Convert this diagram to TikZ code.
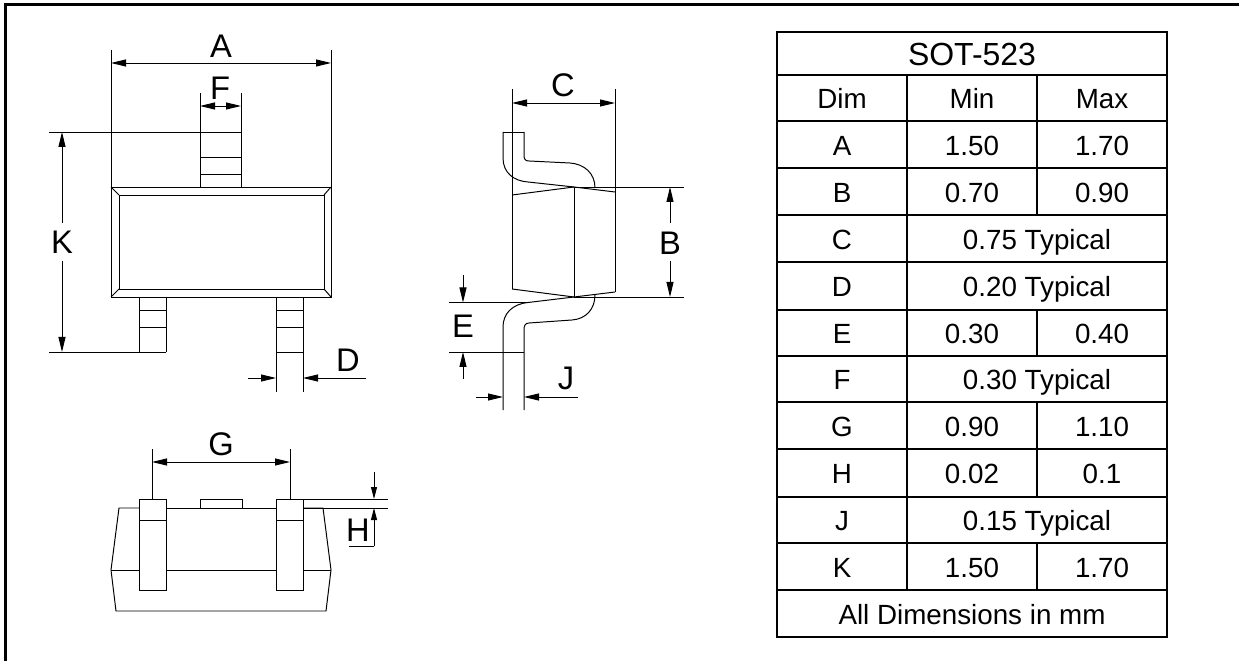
\documentclass[tikz,border=0pt]{standalone}
\usepackage{fontspec}
\setmainfont{Liberation Sans}
\usepackage{tikz}
\usetikzlibrary{arrows.meta}

\tikzset{
  outline/.style={line width=0.28pt},
  frameline/.style={line width=0.7pt},
  tableline/.style={line width=0.55pt},
  dimboth/.style={line width=0.28pt,{Triangle[length=0.15cm,width=0.07cm]}-{Triangle[length=0.15cm,width=0.07cm]}},
  dimend/.style={line width=0.28pt,-{Triangle[length=0.15cm,width=0.07cm]}},
  dimshort/.style={line width=0.28pt,-{Triangle[length=0.12cm,width=0.06cm]}},
  dimlabel/.style={inner sep=0pt,font=\fontsize{9.3}{11}\selectfont},
  tablecell/.style={inner sep=0pt,text height=6pt,text depth=0pt,font=\fontsize{7.9}{10}\selectfont},
  titlecell/.style={inner sep=0pt,text height=6.6pt,text depth=0pt,font=\fontsize{9.1}{11}\selectfont}
}

\begin{document}
\begin{tikzpicture}
\useasboundingbox (0,0) rectangle (12.39,6.61);

\draw[frameline] (0.053,0) -- (0.053,6.565) -- (12.39,6.565);


\draw[outline] (1.11,6.11) -- (1.11,4.74);
\draw[outline] (3.31,6.11) -- (3.31,4.74);
\draw[dimboth] (1.11,5.98) -- (3.31,5.98);
\node[dimlabel] (lblA) at (2.21,6.15) {A};

\draw[outline] (2.00,5.68) -- (2.00,4.74);
\draw[outline] (2.41,5.68) -- (2.41,4.74);
\draw[dimboth] (2.00,5.55) -- (2.41,5.55);
\node[dimlabel] (lblF) at (2.20,5.73) {F};

\draw[outline] (0.49,5.29) -- (2.41,5.29);
\draw[outline] (2.00,5.04) -- (2.41,5.04);
\draw[outline] (2.00,4.87) -- (2.41,4.87);

\draw[outline] (1.11,4.74) rectangle (3.31,3.64);
\draw[outline] (1.19,4.66) rectangle (3.24,3.72);
\draw[outline] (1.11,4.74) -- (1.19,4.66);
\draw[outline] (3.31,4.74) -- (3.24,4.66);
\draw[outline] (1.11,3.64) -- (1.19,3.72);
\draw[outline] (3.31,3.64) -- (3.24,3.72);

\draw[outline] (1.39,3.64) -- (1.39,3.09);
\draw[outline] (1.66,3.64) -- (1.66,3.09);
\draw[outline] (1.39,3.51) -- (1.66,3.51);
\draw[outline] (1.39,3.34) -- (1.66,3.34);
\draw[outline] (0.49,3.09) -- (1.66,3.09);

\draw[outline] (2.76,3.64) -- (2.76,2.69);
\draw[outline] (3.03,3.64) -- (3.03,2.69);
\draw[outline] (2.76,3.51) -- (3.03,3.51);
\draw[outline] (2.76,3.34) -- (3.03,3.34);
\draw[outline] (2.76,3.09) -- (3.03,3.09);

\draw[dimend] (0.62,4.38) -- (0.62,5.29);
\draw[dimend] (0.62,4.00) -- (0.62,3.09);
\node[dimlabel] (lblK) at (0.62,4.19) {K};

\draw[dimend] (2.48,2.83) -- (2.76,2.83);
\draw[dimend] (3.66,2.83) -- (3.03,2.83);
\node[dimlabel] (lblD) at (3.48,3.01) {D};


\draw[outline] (5.12,5.72) -- (5.12,3.72);
\draw[outline] (6.15,5.72) -- (6.15,3.69);
\draw[dimboth] (5.12,5.58) -- (6.15,5.58);
\node[dimlabel] (lblC) at (5.63,5.76) {C};

\draw[outline] (5.03,5.29) -- (5.24,5.29);
\draw[outline] (5.03,5.29) -- (5.03,5.03) .. controls (5.03,4.88) and (5.14,4.80) .. (5.28,4.79) -- (5.74,4.74);
\draw[outline] (5.24,5.29) -- (5.24,5.06) .. controls (5.24,5.02) and (5.25,5.00) .. (5.29,5.00) -- (5.70,4.98) .. controls (5.84,4.97) and (5.95,4.88) .. (5.95,4.73);

\draw[outline] (5.12,4.66) -- (5.74,4.74) -- (6.15,4.69);
\draw[outline] (5.12,3.72) -- (5.74,3.64) -- (6.15,3.69);
\draw[outline] (5.74,4.74) -- (5.74,3.64);

\draw[outline] (5.74,3.64) -- (5.28,3.585) .. controls (5.12,3.57) and (5.03,3.47) .. (5.03,3.34) -- (5.03,2.51);
\draw[outline] (5.95,3.66) .. controls (5.95,3.52) and (5.86,3.42) .. (5.72,3.41) -- (5.29,3.38) .. controls (5.25,3.38) and (5.24,3.35) .. (5.24,3.31) -- (5.24,2.51);

\draw[outline] (5.74,4.74) -- (6.84,4.74);
\draw[outline] (5.74,3.64) -- (6.84,3.64);
\draw[dimend] (6.70,4.38) -- (6.70,4.74);
\draw[dimend] (6.70,4.00) -- (6.70,3.64);
\node[dimlabel] (lblB) at (6.70,4.18) {B};

\draw[outline] (4.49,3.585) -- (5.28,3.585);
\draw[outline] (4.49,3.09) -- (5.24,3.09);
\draw[dimend] (4.63,3.86) -- (4.63,3.585);
\draw[dimend] (4.63,2.82) -- (4.63,3.09);
\node[dimlabel] (lblE) at (4.63,3.35) {E};

\draw[dimend] (4.76,2.64) -- (5.03,2.64);
\draw[dimend] (5.78,2.64) -- (5.24,2.64);
\node[dimlabel] (lblJ) at (5.66,2.83) {J};


\draw[outline] (1.52,2.12) -- (1.52,1.62);
\draw[outline] (2.90,2.12) -- (2.90,1.62);
\draw[dimboth] (1.52,1.99) -- (2.90,1.99);
\node[dimlabel] (lblG) at (2.21,2.17) {G};

\draw[outline] (1.39,1.62) rectangle (1.66,0.71);
\draw[outline] (1.39,1.41) -- (1.66,1.41);
\draw[outline] (2.76,1.62) rectangle (3.03,0.71);
\draw[outline] (2.76,1.41) -- (3.03,1.41);
\draw[outline] (2.00,1.53) -- (2.00,1.62) -- (2.42,1.62) -- (2.42,1.53);

\draw[outline] (1.39,1.53) -- (1.19,1.53) -- (1.11,0.91) -- (1.16,0.50) -- (3.26,0.50) -- (3.31,0.91) -- (3.23,1.53) -- (3.03,1.53);
\draw[outline] (1.66,1.53) -- (2.76,1.53);
\draw[outline] (1.11,0.91) -- (1.39,0.91);
\draw[outline] (1.66,0.91) -- (2.76,0.91);
\draw[outline] (3.03,0.91) -- (3.31,0.91);

\draw[outline] (3.03,1.62) -- (3.88,1.62);
\draw[outline] (3.03,1.53) -- (3.88,1.53);
\draw[dimshort] (3.74,1.89) -- (3.74,1.62);
\draw[dimshort] (3.74,1.15) -- (3.74,1.53);
\draw[outline] (3.74,1.15) -- (3.49,1.15);
\node[dimlabel] (lblH) at (3.58,1.31) {H};


\draw[tableline] (7.77,6.29) rectangle (11.67,0.24);
\draw[tableline] (7.77,5.86) -- (11.67,5.86);
\draw[tableline] (7.77,5.40) -- (11.67,5.40);
\draw[tableline] (7.77,4.93) -- (11.67,4.93);
\draw[tableline] (7.77,4.46) -- (11.67,4.46);
\draw[tableline] (7.77,3.99) -- (11.67,3.99);
\draw[tableline] (7.77,3.51) -- (11.67,3.51);
\draw[tableline] (7.77,3.05) -- (11.67,3.05);
\draw[tableline] (7.77,2.59) -- (11.67,2.59);
\draw[tableline] (7.77,2.12) -- (11.67,2.12);
\draw[tableline] (7.77,1.64) -- (11.67,1.64);
\draw[tableline] (7.77,1.18) -- (11.67,1.18);
\draw[tableline] (7.77,0.71) -- (11.67,0.71);
\draw[tableline] (9.07,5.86) -- (9.07,0.71);
\draw[tableline] (10.37,5.86) -- (10.37,4.46);
\draw[tableline] (10.37,3.51) -- (10.37,3.05);
\draw[tableline] (10.37,2.59) -- (10.37,1.64);
\draw[tableline] (10.37,1.18) -- (10.37,0.71);

\node[titlecell] (tblTitle) at (9.72,6.075) {SOT-523};

\node[tablecell] (headDim) at (8.42,5.63) {Dim};
\node[tablecell] (headMin) at (9.72,5.63) {Min};
\node[tablecell] (headMax) at (11.02,5.63) {Max};

\node[tablecell] (rowA) at (8.42,5.165) {A};
\node[tablecell] (minA) at (9.72,5.165) {1.50};
\node[tablecell] (maxA) at (11.02,5.165) {1.70};

\node[tablecell] (rowB) at (8.42,4.695) {B};
\node[tablecell] (minB) at (9.72,4.695) {0.70};
\node[tablecell] (maxB) at (11.02,4.695) {0.90};

\node[tablecell] (rowC) at (8.42,4.22) {C};
\node[tablecell] (typC) at (10.37,4.22) {0.75 Typical};

\node[tablecell] (rowD) at (8.42,3.75) {D};
\node[tablecell] (typD) at (10.37,3.75) {0.20 Typical};

\node[tablecell] (rowE) at (8.42,3.28) {E};
\node[tablecell] (minE) at (9.72,3.28) {0.30};
\node[tablecell] (maxE) at (11.02,3.28) {0.40};

\node[tablecell] (rowF) at (8.42,2.82) {F};
\node[tablecell] (typF) at (10.37,2.82) {0.30 Typical};

\node[tablecell] (rowG) at (8.42,2.355) {G};
\node[tablecell] (minG) at (9.72,2.355) {0.90};
\node[tablecell] (maxG) at (11.02,2.355) {1.10};

\node[tablecell] (rowH) at (8.42,1.88) {H};
\node[tablecell] (minH) at (9.72,1.88) {0.02};
\node[tablecell] (maxH) at (11.02,1.88) {0.1};

\node[tablecell] (rowJ) at (8.42,1.41) {J};
\node[tablecell] (typJ) at (10.37,1.41) {0.15 Typical};

\node[tablecell] (rowK) at (8.42,0.945) {K};
\node[tablecell] (minK) at (9.72,0.945) {1.50};
\node[tablecell] (maxK) at (11.02,0.945) {1.70};

\node[tablecell] (tblNote) at (9.72,0.475) {All Dimensions in mm};
\end{tikzpicture}
\end{document}
